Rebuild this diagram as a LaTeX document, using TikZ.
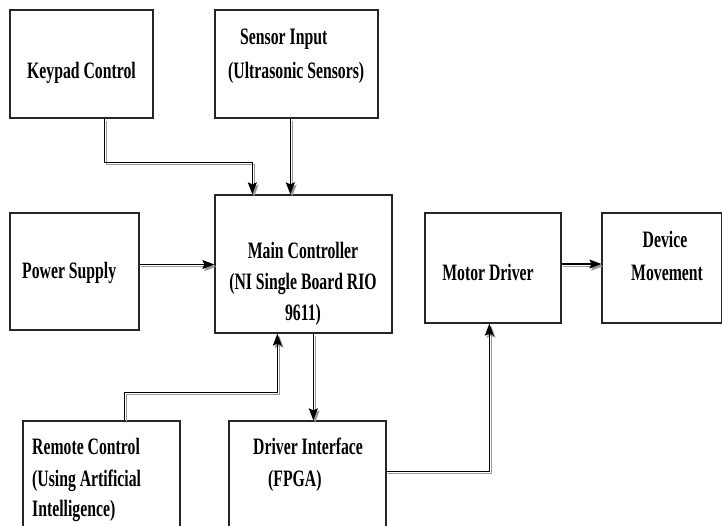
\documentclass[tikz,border=0pt]{standalone}
\usepackage{fontspec}
\setmainfont{Liberation Serif}[FakeStretch=0.67]
\usetikzlibrary{arrows.meta}
\tikzset{
  box/.style={draw=black!85, line width=1.3pt, rectangle, inner sep=0pt},
  lbl/.style={inner sep=0pt, font=\fontsize{23.5}{27}\selectfont\bfseries, text=black},
  conn/.style={line width=1.1pt, black, -{Stealth[length=12pt,width=9pt,inset=2pt]},
    preaction={draw=black!40, line width=1.1pt, transform canvas={shift={(1.8pt,-2.2pt)}}}}
}
\begin{document}
\begin{tikzpicture}[x=1pt,y=-1pt]
\useasboundingbox (0,0) rectangle (723,526);
% boxes
\node[box, minimum width=143pt, minimum height=108pt] (keypad) at (81.5,64) {};
\node[box, minimum width=163pt, minimum height=108pt] (sensor) at (296.5,64) {};
\node[box, minimum width=129pt, minimum height=117pt] (power) at (74.5,271.5) {};
\node[box, minimum width=177pt, minimum height=138pt] (main) at (303.5,264) {};
\node[box, minimum width=136pt, minimum height=110pt] (motor) at (493,268) {};
\node[box, minimum width=119.5pt, minimum height=110pt] (device) at (661.75,268) {};
\node[box, minimum width=157pt, minimum height=119pt] (remote) at (101.5,480.5) {};
\node[box, minimum width=157pt, minimum height=119pt] (driver) at (307.5,480.5) {};
% texts
\node[lbl, anchor=base west] (t1) at (27,79) {Keypad Control};
\node[lbl, anchor=base west] (t2) at (240,45) {Sensor Input};
\node[lbl, anchor=base west] (t3) at (228,79) {(Ultrasonic Sensors)};
\node[lbl, anchor=base west] (t4) at (22,279) {Power Supply};
\node[lbl, anchor=base] (t5) at (303,259) {Main Controller};
\node[lbl, anchor=base] (t6) at (303,290) {(NI Single Board RIO};
\node[lbl, anchor=base] (t7) at (303,321) {9611)};
\node[lbl, anchor=base] (t8) at (488,281) {Motor Driver};
\node[lbl, anchor=base] (t9) at (665,248) {Device};
\node[lbl, anchor=base] (t10) at (667,281) {Movement};
\node[lbl, anchor=base west] (t11) at (32,454) {Remote Control};
\node[lbl, anchor=base west] (t12) at (32,486) {(Using Artificial};
\node[lbl, anchor=base west] (t13) at (32,516) {Intelligence)};
\node[lbl, anchor=base west] (t14) at (253,454) {Driver Interface};
\node[lbl, anchor=base west] (t15) at (268,486) {(FPGA)};
% connector points
\coordinate (k1) at ([xshift=95pt]keypad.south west);
\coordinate (k2) at ([xshift=38pt,yshift=32pt]main.north west);
\coordinate (k3) at ([xshift=38pt]main.north west);
\coordinate (s1) at ([xshift=76pt]sensor.south west);
\coordinate (s2) at ([xshift=76pt]main.north west);
\coordinate (p1) at ([yshift=7pt]power.east);
\coordinate (r1) at ([xshift=102pt]remote.north west);
\coordinate (r2) at ([xshift=63pt,yshift=-59pt]main.south west);
\coordinate (r3) at ([xshift=63pt]main.south west);
\coordinate (m1) at ([xshift=99pt]main.south west);
\coordinate (m2) at ([xshift=85pt]driver.north west);
\coordinate (d1) at ([yshift=-51pt]driver.north east);
\coordinate (d2) at ([xshift=65pt]motor.south west);
\coordinate (mo1) at ([yshift=4pt]motor.east);
% connectors
\draw[conn] (k1) |- (k2) -- (k3);
\draw[conn] (s1) -- (s2);
\draw[conn] (p1) -- (p1 -| main.west);
\draw[conn] (r1) |- (r2) -- (r3);
\draw[conn] (m1) -- (m2);
\draw[conn] (d1) -| (d2);
\draw[conn] (mo1) -- (mo1 -| device.west);
\end{tikzpicture}
\end{document}
